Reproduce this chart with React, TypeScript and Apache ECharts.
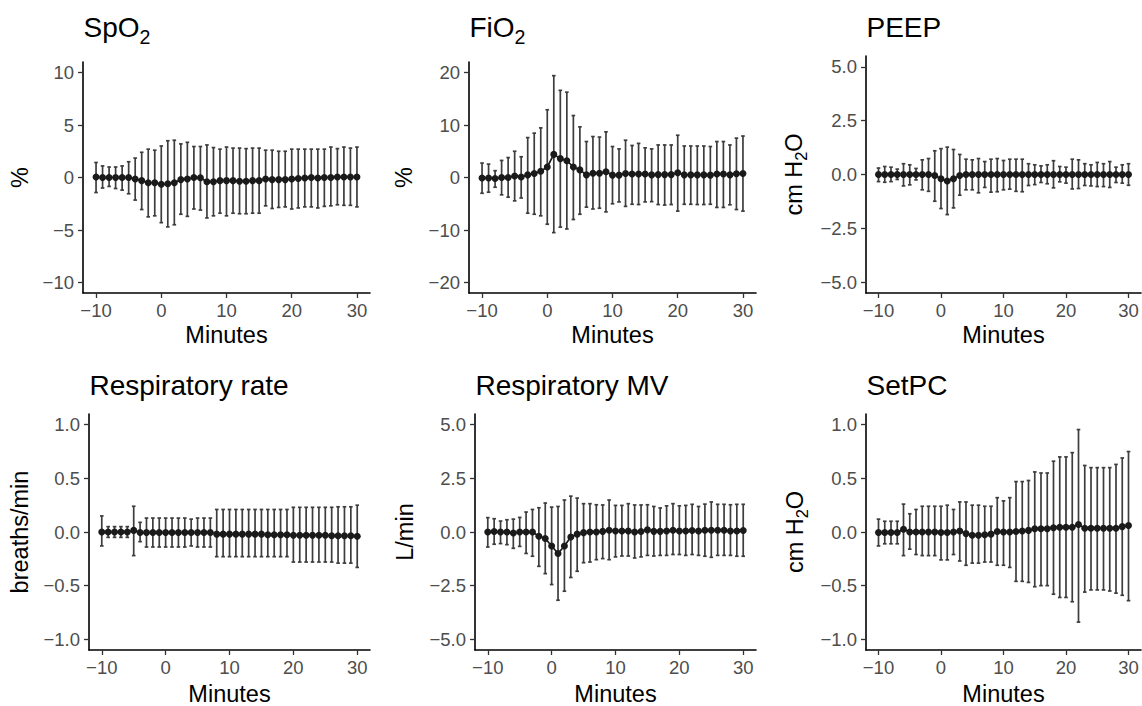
import React, { useEffect, useRef } from "react";
import * as echarts from "echarts";

const minutes = [-10, -9, -8, -7, -6, -5, -4, -3, -2, -1, 0, 1, 2, 3, 4, 5, 6, 7, 8, 9, 10, 11, 12, 13, 14, 15, 16, 17, 18, 19, 20, 21, 22, 23, 24, 25, 26, 27, 28, 29, 30];
const xTicks = [-10, 0, 10, 20, 30];

const spo2Mean = [0.05, 0, 0, 0, 0, 0, -0.15, -0.3, -0.5, -0.5, -0.65, -0.6, -0.5, -0.2, -0.15, 0, -0.03, -0.4, -0.4, -0.3, -0.3, -0.3, -0.35, -0.35, -0.3, -0.3, -0.15, -0.2, -0.2, -0.2, -0.15, -0.1, -0.05, 0, -0.05, 0, 0, 0.05, 0.05, 0.05, 0.05];
const spo2Upper = [1.43, 1.1, 1.0, 1.0, 1.1, 1.5, 1.85, 2.4, 2.7, 2.6, 3.0, 3.5, 3.55, 3.2, 3.35, 2.95, 2.95, 3.1, 2.85, 2.7, 2.9, 2.8, 2.8, 2.75, 2.8, 2.8, 2.6, 2.6, 2.5, 2.5, 2.7, 2.7, 2.7, 2.7, 2.7, 2.7, 2.9, 2.75, 2.9, 2.8, 2.9];
const spo2Lower = [-1.43, -1.0, -0.85, -1.05, -1.2, -1.55, -2.15, -3.05, -3.75, -3.65, -4.3, -4.7, -4.5, -3.5, -3.7, -3.0, -3.1, -3.85, -3.65, -3.4, -3.65, -3.4, -3.45, -3.45, -3.4, -3.4, -2.7, -2.95, -2.85, -2.8, -3.0, -2.9, -2.8, -2.8, -2.9, -2.75, -2.7, -2.6, -2.65, -2.65, -2.8];
const spo2Ticks = [-10, -5, 0, 5, 10];

const fio2Mean = [-0.1, -0.1, -0.2, 0.0, 0.0, 0.3, 0.1, 0.5, 0.75, 1.2, 2.0, 4.4, 3.6, 3.2, 2.0, 1.45, 0.5, 0.8, 0.8, 1.1, 0.45, 0.45, 0.75, 0.65, 0.65, 0.65, 0.5, 0.55, 0.55, 0.55, 0.9, 0.5, 0.5, 0.5, 0.5, 0.45, 0.65, 0.65, 0.5, 0.7, 0.75];
const fio2Upper = [2.75, 2.55, 1.3, 3.25, 3.8, 5.0, 3.95, 7.6, 8.45, 9.45, 12.9, 19.4, 16.6, 16.25, 11.8, 9.65, 6.85, 7.8, 7.7, 8.7, 5.9, 5.45, 7.1, 6.1, 6.5, 5.65, 5.45, 6.2, 6.2, 6.2, 8.05, 6.0, 6.0, 6.0, 6.0, 5.9, 6.85, 6.85, 6.2, 7.5, 7.9];
const fio2Lower = [-3.0, -2.8, -1.85, -3.3, -3.75, -4.45, -3.9, -6.8, -7.0, -7.3, -8.9, -10.5, -9.45, -9.8, -8.0, -7.0, -5.65, -6.0, -5.85, -6.55, -5.0, -4.65, -5.5, -5.1, -5.15, -4.65, -4.6, -5.15, -5.25, -5.15, -6.4, -5.1, -5.1, -5.15, -5.15, -5.1, -5.7, -5.7, -5.2, -6.1, -6.4];
const fio2Ticks = [-20, -10, 0, 10, 20];

const peepMean = [0, 0, 0, 0, 0, 0, 0, 0, 0, -0.05, -0.2, -0.3, -0.2, -0.05, 0, 0, 0, 0, 0, 0, 0, 0, 0, 0, 0, 0, 0, 0, 0, 0, 0, 0, 0, 0, 0, 0, 0, 0, 0, 0, 0];
const peepUpper = [0.3, 0.37, 0.34, 0.25, 0.5, 0.45, 0.28, 0.68, 0.74, 1.1, 1.2, 1.27, 1.16, 0.93, 0.71, 0.68, 0.74, 0.6, 0.71, 0.74, 0.65, 0.71, 0.71, 0.71, 0.5, 0.45, 0.4, 0.45, 0.64, 0.37, 0.34, 0.71, 0.68, 0.5, 0.45, 0.56, 0.5, 0.6, 0.34, 0.45, 0.5];
const peepLower = [-0.33, -0.36, -0.33, -0.23, -0.53, -0.48, -0.25, -0.71, -0.78, -1.24, -1.58, -1.86, -1.55, -0.96, -0.71, -0.71, -0.85, -0.6, -0.82, -0.8, -0.71, -0.68, -0.78, -0.8, -0.51, -0.47, -0.37, -0.43, -0.62, -0.34, -0.4, -0.67, -0.65, -0.51, -0.53, -0.56, -0.56, -0.6, -0.37, -0.4, -0.5];
const peepTicks = [-5, -2.5, 0, 2.5, 5];

const rrMean = [0.0, 0.0, 0.0, 0.0, 0.0, 0.015, -0.005, -0.005, -0.005, -0.005, -0.005, -0.005, -0.005, -0.005, -0.005, -0.005, -0.005, -0.005, -0.02, -0.02, -0.02, -0.02, -0.02, -0.02, -0.02, -0.02, -0.025, -0.025, -0.025, -0.025, -0.03, -0.03, -0.03, -0.03, -0.03, -0.03, -0.035, -0.035, -0.035, -0.035, -0.04];
const rrUpper = [0.15, 0.05, 0.05, 0.05, 0.05, 0.24, 0.09, 0.13, 0.13, 0.13, 0.13, 0.13, 0.13, 0.13, 0.12, 0.13, 0.13, 0.13, 0.21, 0.21, 0.21, 0.21, 0.21, 0.21, 0.21, 0.21, 0.21, 0.21, 0.21, 0.21, 0.23, 0.23, 0.23, 0.23, 0.23, 0.23, 0.23, 0.235, 0.235, 0.235, 0.25];
const rrLower = [-0.13, -0.05, -0.05, -0.05, -0.05, -0.22, -0.09, -0.14, -0.14, -0.14, -0.14, -0.14, -0.14, -0.14, -0.13, -0.14, -0.14, -0.14, -0.23, -0.23, -0.23, -0.23, -0.23, -0.23, -0.23, -0.23, -0.23, -0.23, -0.23, -0.23, -0.28, -0.28, -0.28, -0.28, -0.28, -0.28, -0.28, -0.29, -0.29, -0.29, -0.33];
const rrTicks = [-1, -0.5, 0, 0.5, 1];

const mvMean = [0, 0.02, 0, 0, -0.05, 0, 0, 0, -0.2, -0.3, -0.65, -1.0, -0.65, -0.23, -0.1, -0.03, 0, 0, 0.03, 0.08, 0.05, 0.05, 0.05, 0.0, 0.02, 0.1, 0.03, 0.03, 0.05, 0.08, 0.05, 0.05, 0.07, 0.05, 0.08, 0.08, 0.08, 0.08, 0.05, 0.05, 0.07];
const mvUpper = [0.67, 0.62, 0.51, 0.57, 0.6, 0.68, 0.93, 1.05, 1.13, 1.35, 1.16, 1.19, 1.49, 1.67, 1.58, 1.32, 1.32, 1.27, 1.26, 1.49, 1.24, 1.24, 1.32, 1.26, 1.26, 1.27, 1.19, 1.12, 1.22, 1.32, 1.22, 1.24, 1.29, 1.19, 1.3, 1.4, 1.29, 1.29, 1.27, 1.29, 1.29];
const mvLower = [-0.7, -0.57, -0.54, -0.59, -0.76, -0.67, -1.0, -1.13, -1.6, -1.94, -2.45, -3.18, -2.76, -2.12, -1.83, -1.43, -1.4, -1.29, -1.24, -1.29, -1.16, -1.12, -1.12, -1.21, -1.16, -1.09, -1.12, -1.09, -1.09, -1.05, -1.05, -1.09, -1.05, -1.09, -1.13, -1.18, -1.09, -1.09, -1.09, -1.13, -1.13];
const mvTicks = [-5, -2.5, 0, 2.5, 5];

const setpcMean = [-0.005, -0.005, -0.005, -0.005, 0.025, 0, 0, 0, 0, 0, -0.005, -0.005, 0, 0.01, -0.015, -0.03, -0.03, -0.025, -0.02, 0.005, 0, 0, 0.005, 0.01, 0.015, 0.03, 0.03, 0.03, 0.04, 0.045, 0.045, 0.045, 0.07, 0.035, 0.035, 0.035, 0.035, 0.035, 0.035, 0.05, 0.06];
const setpcUpper = [0.12, 0.1, 0.1, 0.1, 0.26, 0.17, 0.21, 0.24, 0.24, 0.24, 0.24, 0.25, 0.21, 0.28, 0.28, 0.25, 0.25, 0.24, 0.24, 0.32, 0.29, 0.32, 0.47, 0.47, 0.48, 0.56, 0.55, 0.55, 0.66, 0.7, 0.7, 0.74, 0.955, 0.62, 0.6, 0.6, 0.6, 0.6, 0.63, 0.69, 0.75];
const setpcLower = [-0.13, -0.11, -0.11, -0.11, -0.22, -0.16, -0.21, -0.22, -0.22, -0.22, -0.26, -0.26, -0.21, -0.27, -0.31, -0.29, -0.29, -0.28, -0.28, -0.31, -0.31, -0.33, -0.46, -0.46, -0.47, -0.51, -0.5, -0.5, -0.58, -0.61, -0.61, -0.65, -0.84, -0.56, -0.54, -0.54, -0.54, -0.55, -0.57, -0.59, -0.64];
const setpcTicks = [-1, -0.5, 0, 0.5, 1];

const FONT = "'Liberation Sans', Arial, Helvetica, sans-serif";
const TITLE_SIZE = 28;
const AXIS_TITLE_SIZE = 23.5;
const TICK_SIZE = 18.5;
const SUB_RATIO = 0.7;

// each title / axis label given as pieces: [text, isSubscript]
type Piece = [string, boolean];

const panels = [
  { title: [["SpO", false], ["2", true]] as Piece[], yName: [["%", false]] as Piece[], mean: spo2Mean, lower: spo2Lower, upper: spo2Upper, yTicks: spo2Ticks, yPad: 1, dec: 0,
    grid: { left: 83, top: 62, width: 287, height: 231 }, titleY: 37.7, yNameX: 28, xNameY: 343 },
  { title: [["FiO", false], ["2", true]] as Piece[], yName: [["%", false]] as Piece[], mean: fio2Mean, lower: fio2Lower, upper: fio2Upper, yTicks: fio2Ticks, yPad: 2, dec: 0,
    grid: { left: 469, top: 62, width: 287, height: 231 }, titleY: 37.7, yNameX: 412, xNameY: 343 },
  { title: [["PEEP", false]] as Piece[], yName: [["cm H", false], ["2", true], ["O", false]] as Piece[], mean: peepMean, lower: peepLower, upper: peepUpper, yTicks: peepTicks, yPad: 0.5, dec: 1,
    grid: { left: 866, top: 56, width: 275, height: 237 }, titleY: 37.7, yNameX: 802, xNameY: 343 },
  { title: [["Respiratory rate", false]] as Piece[], yName: [["breaths/min", false]] as Piece[], mean: rrMean, lower: rrLower, upper: rrUpper, yTicks: rrTicks, yPad: 0.1, dec: 1,
    grid: { left: 89, top: 414, width: 281, height: 236 }, titleY: 395, yNameX: 28, xNameY: 702 },
  { title: [["Respiratory MV", false]] as Piece[], yName: [["L/min", false]] as Piece[], mean: mvMean, lower: mvLower, upper: mvUpper, yTicks: mvTicks, yPad: 0.5, dec: 1,
    grid: { left: 475, top: 414, width: 281, height: 236 }, titleY: 395, yNameX: 413, xNameY: 702 },
  { title: [["SetPC", false]] as Piece[], yName: [["cm H", false], ["2", true], ["O", false]] as Piece[], mean: setpcMean, lower: setpcLower, upper: setpcUpper, yTicks: setpcTicks, yPad: 0.1, dec: 1,
    grid: { left: 866, top: 414, width: 275, height: 236 }, titleY: 395, yNameX: 803, xNameY: 702 },
];

const fmt = (v: number, dec: number) => (v < 0 ? "\u2212" : "") + Math.abs(v).toFixed(dec);

let measureCtx: CanvasRenderingContext2D | null = null;
function measure(text: string, size: number): number {
  if (!measureCtx) measureCtx = document.createElement("canvas").getContext("2d");
  if (!measureCtx) return text.length * size * 0.55;
  measureCtx.font = `${size}px ${FONT}`;
  return measureCtx.measureText(text).width;
}

// Build text pieces laid out along local x, with baseline at local y = 0
function piecesElements(pieces: Piece[], size: number, startX: number) {
  const els: any[] = [];
  let x = startX;
  const subSize = size * SUB_RATIO;
  for (const [t, sub] of pieces) {
    const s = sub ? subSize : size;
    const baseline = sub ? size * 0.2 : 0;
    els.push({
      type: "text",
      x,
      y: baseline - 0.3465 * s,
      style: { text: t, fontSize: s, fontFamily: FONT, fill: "#000", align: "left", verticalAlign: "middle" },
    });
    x += measure(t, s);
  }
  return { els, width: x - startX };
}

function piecesWidth(pieces: Piece[], size: number) {
  let w = 0;
  for (const [t, sub] of pieces) w += measure(t, sub ? size * SUB_RATIO : size);
  return w;
}

export default function App() {
  const ref = useRef<HTMLDivElement>(null);
  useEffect(() => {
    if (!ref.current) return;
    const chart = echarts.init(ref.current, undefined, { renderer: "svg" });
    const grids: any[] = [];
    const xAxes: any[] = [];
    const yAxes: any[] = [];
    const series: any[] = [];
    const graphics: any[] = [];

    panels.forEach((p, i) => {
      grids.push({ ...p.grid, containLabel: false });
      xAxes.push({
        type: "value", gridIndex: i, min: -12, max: 32,
        axisLine: { show: true, onZero: false, lineStyle: { color: "#000", width: 1.6 } },
        axisTick: { show: true, length: 5, customValues: xTicks, lineStyle: { color: "#333", width: 1.3 } },
        axisLabel: { customValues: xTicks, formatter: (v: number) => fmt(v, 0), color: "#4D4D4D", fontSize: TICK_SIZE, fontFamily: FONT, margin: 8 },
        splitLine: { show: false },
      });
      const yMin = p.yTicks[0] - p.yPad;
      const yMax = p.yTicks[p.yTicks.length - 1] + p.yPad;
      yAxes.push({
        type: "value", gridIndex: i, min: yMin, max: yMax,
        axisLine: { show: true, onZero: false, lineStyle: { color: "#000", width: 1.6 } },
        axisTick: { show: true, length: 5, customValues: p.yTicks, lineStyle: { color: "#333", width: 1.3 } },
        axisLabel: { customValues: p.yTicks, formatter: (v: number) => fmt(v, p.dec), color: "#4D4D4D", fontSize: TICK_SIZE, fontFamily: FONT, margin: 9 },
        splitLine: { show: false },
      });
      series.push({
        type: "custom", xAxisIndex: i, yAxisIndex: i, z: 2, silent: true,
        data: minutes.map((m, k) => [m, p.lower[k], p.upper[k]]),
        encode: { x: 0, y: [1, 2] },
        renderItem: (_params: any, api: any) => {
          const x = api.value(0);
          const lo = api.coord([x, api.value(1)]);
          const hi = api.coord([x, api.value(2)]);
          const hw = 1.8;
          const style = { stroke: "#3d3d3d", lineWidth: 1.7 };
          return {
            type: "group",
            children: [
              { type: "line", shape: { x1: lo[0], y1: lo[1], x2: hi[0], y2: hi[1] }, style },
              { type: "line", shape: { x1: lo[0] - hw, y1: lo[1], x2: lo[0] + hw, y2: lo[1] }, style },
              { type: "line", shape: { x1: hi[0] - hw, y1: hi[1], x2: hi[0] + hw, y2: hi[1] }, style },
            ],
          };
        },
      });
      series.push({
        type: "line", xAxisIndex: i, yAxisIndex: i, z: 3, silent: true,
        data: minutes.map((m, k) => [m, p.mean[k]]),
        symbol: "circle", symbolSize: 7, showSymbol: true,
        lineStyle: { color: "#1a1a1a", width: 1.7 },
        itemStyle: { color: "#1a1a1a" },
      });

      // title
      const t = piecesElements(p.title, TITLE_SIZE, 0);
      graphics.push({ type: "group", x: p.grid.left + 0.5, y: p.titleY, children: t.els });
      // x axis name
      const cx = p.grid.left + p.grid.width / 2;
      graphics.push({
        type: "text", x: cx, y: p.xNameY - 0.3465 * AXIS_TITLE_SIZE,
        style: { text: "Minutes", fontSize: AXIS_TITLE_SIZE, fontFamily: FONT, fill: "#000", align: "center", verticalAlign: "middle" },
      });
      // y axis name (rotated)
      const w = piecesWidth(p.yName, AXIS_TITLE_SIZE);
      const yn = piecesElements(p.yName, AXIS_TITLE_SIZE, -w / 2);
      graphics.push({
        type: "group", x: p.yNameX, y: p.grid.top + p.grid.height / 2, rotation: Math.PI / 2,
        children: yn.els,
      });
    });

    chart.setOption({
      animation: false,
      backgroundColor: "#fff",
      grid: grids,
      xAxis: xAxes,
      yAxis: yAxes,
      series,
      graphic: graphics,
    });
    return () => chart.dispose();
  }, []);
  return <div ref={ref} style={{ position: "fixed", left: 0, top: 0, width: 1142, height: 706, background: "#fff" }} />;
}
